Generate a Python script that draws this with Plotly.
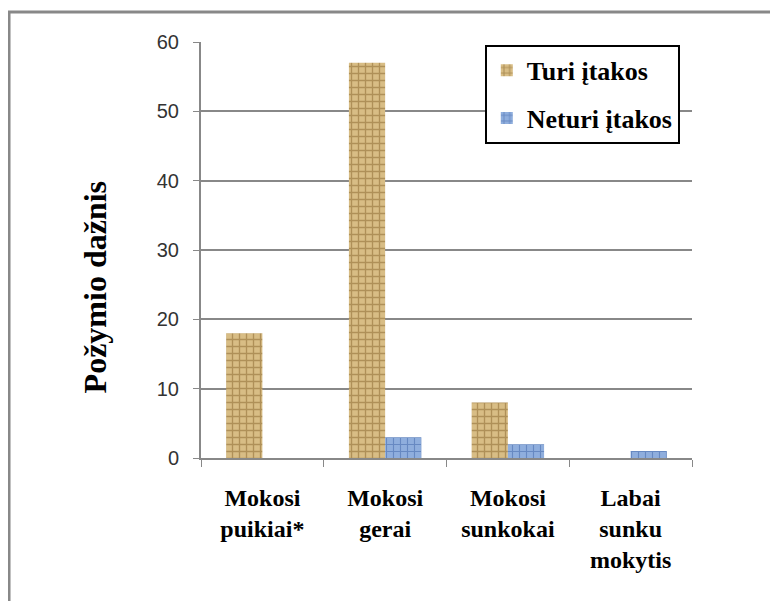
import plotly.graph_objects as go

categories = ["Mokosi<br>puikiai*", "Mokosi<br>gerai", "Mokosi<br>sunkokai", "Labai<br>sunku<br>mokytis"]
turi_itakos = [18, 57, 8, 0]
neturi_itakos = [0, 3, 2, 1]
y_ticks = [0, 10, 20, 30, 40, 50, 60]

serif = "Liberation Serif, Times New Roman, serif"

fig = go.Figure()
fig.add_trace(go.Bar(
    x=categories, y=turi_itakos, name="Turi įtakos", legendgroup="a",
    marker=dict(color="#D2B47A", line=dict(width=0),
                pattern=dict(shape="+", fgcolor="#86642B", bgcolor="#D8BD85", size=7, solidity=0.35)),
))
fig.add_trace(go.Bar(
    x=categories, y=neturi_itakos, name="Neturi įtakos", legendgroup="b",
    marker=dict(color="#6F8FC8", line=dict(width=0),
                pattern=dict(shape="+", fgcolor="#3F63A8", bgcolor="#8FAEDD", size=7, solidity=0.3)),
))

# outer chart frame (only top and left edges fall inside the picture)
fig.add_shape(type="rect", xref="paper", yref="paper",
              x0=-0.391, x1=2.0, y0=-1.0, y1=1.072,
              line=dict(color="#888888", width=3), layer="below")

# y-axis title, placed a bit below the axis centre as in the original
fig.add_annotation(text="Požymio dažnis", xref="paper", yref="paper",
                   x=-0.216, y=0.41, xanchor="center", yanchor="middle",
                   textangle=-90, showarrow=False,
                   font=dict(family=serif, size=32, color="black", weight="bold"))

fig.update_layout(
    width=778, height=601,
    margin=dict(l=193, r=94, t=34, b=151),
    paper_bgcolor="white", plot_bgcolor="white",
    barmode="group", bargap=0.41, bargroupgap=0,
    showlegend=True,
    legend=dict(x=0.578, y=0.993, xanchor="left", yanchor="top",
                bordercolor="black", borderwidth=2, bgcolor="white",
                font=dict(family=serif, size=26, color="black", weight="bold"),
                itemwidth=30, tracegroupgap=11, traceorder="grouped"),
    font=dict(family=serif, color="black"),
)
fig.update_yaxes(
    range=[0, 60], tickvals=y_ticks, showgrid=True, gridcolor="#888888", gridwidth=1.5,
    showline=True, linecolor="#888888", linewidth=2, ticks="outside", ticklen=6,
    tickcolor="#888888", ticklabelstandoff=10,
    tickfont=dict(family="Liberation Sans", size=20, color="#333333"),
    zeroline=False,
)
fig.update_xaxes(
    showline=True, linecolor="#888888", linewidth=2, ticks="outside", ticklen=7,
    tickcolor="#888888", tickson="boundaries", ticklabelstandoff=17,
    tickfont=dict(family=serif, size=24, color="black", weight="bold"),
)

fig.write_html("out.html")
